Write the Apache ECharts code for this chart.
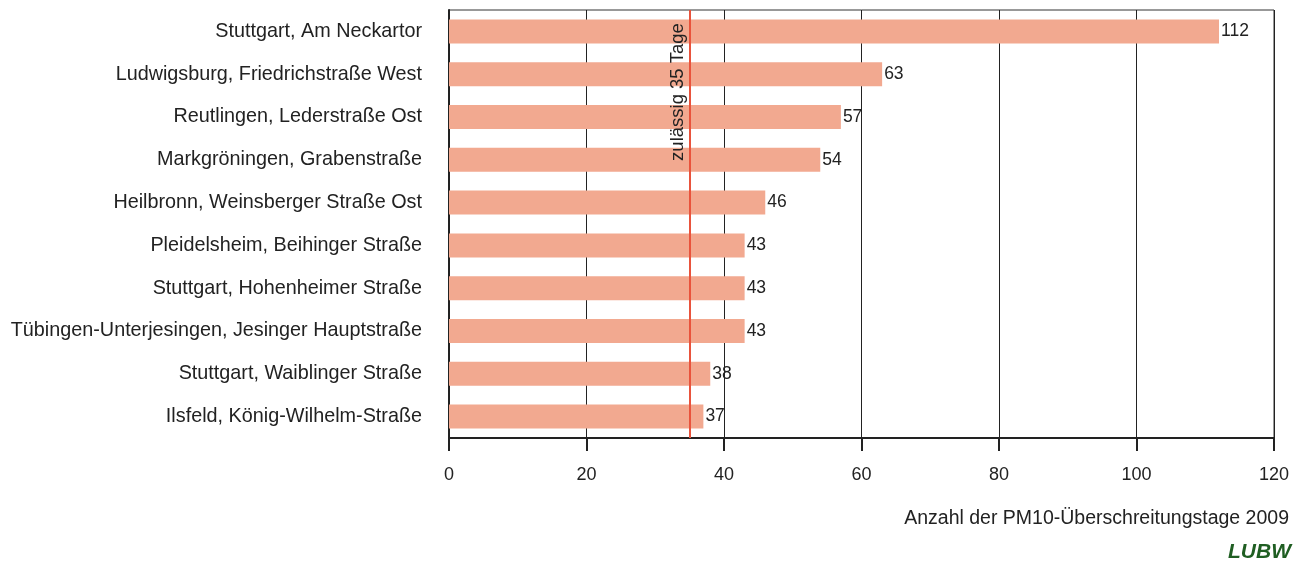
<!DOCTYPE html>
<html>
<head>
<meta charset="utf-8">
<script src="https://cdn.jsdelivr.net/npm/echarts@6/dist/echarts.min.js"></script>
<style>
    html, body { margin: 0; padding: 0; background: #fff; }
    #chart { width: 1303px; height: 564px; }
</style>
</head>
<body>
<div id="chart"></div>
<script>
    // Messstationen (von oben nach unten)
    const stations = [
        'Stuttgart, Am Neckartor',
        'Ludwigsburg, Friedrichstraße West',
        'Reutlingen, Lederstraße Ost',
        'Markgröningen, Grabenstraße',
        'Heilbronn, Weinsberger Straße Ost',
        'Pleidelsheim, Beihinger Straße',
        'Stuttgart, Hohenheimer Straße',
        'Tübingen-Unterjesingen, Jesinger Hauptstraße',
        'Stuttgart, Waiblinger Straße',
        'Ilsfeld, König-Wilhelm-Straße'
    ];
    const days = [112, 63, 57, 54, 46, 43, 43, 43, 38, 37];
    const limitDays = 35;
    const limitLabel = 'zulässig 35 Tage';
    const axisTitle = 'Anzahl der PM10-Überschreitungstage 2009';

    const font = '"Liberation Sans", Arial, sans-serif';
    const chart = echarts.init(document.getElementById('chart'));

    const option = {
        animation: false,
        grid: {
            left: 449,
            right: 29,
            top: 10,
            bottom: 126,
            show: true,
            borderColor: '#333',
            borderWidth: 1
        },
        xAxis: {
            type: 'value',
            min: 0,
            max: 120,
            interval: 20,
            axisLine: {show: true, lineStyle: {color: '#222', width: 2}},
            axisTick: {show: true, length: 13, lineStyle: {color: '#222', width: 2}},
            axisLabel: {color: '#222', fontSize: 18, fontFamily: font, margin: 28},
            splitLine: {show: true, lineStyle: {color: '#222', width: 1}}
        },
        yAxis: {
            type: 'category',
            inverse: true,
            data: stations,
            axisLine: {show: true, lineStyle: {color: '#222', width: 2}},
            axisTick: {show: false},
            axisLabel: {color: '#222', fontSize: 19.8, fontFamily: font, margin: 27}
        },
        series: [{
            type: 'bar',
            data: days,
            barWidth: 24,
            itemStyle: {color: '#F2A990'},
            label: {
                show: true,
                position: 'right',
                distance: 2,
                color: '#222',
                fontSize: 17.5,
                fontFamily: font
            },
            markLine: {
                silent: true,
                symbol: 'none',
                lineStyle: {color: '#E9533C', width: 2, type: 'solid'},
                label: {show: false},
                data: [{xAxis: limitDays}]
            },
            z: 1
        }],
        graphic: [
            {
                type: 'text',
                x: 678,
                y: 92,
                rotation: Math.PI / 2,
                z: 100,
                style: {
                    text: limitLabel,
                    fill: '#222',
                    font: '18.5px ' + font,
                    align: 'center',
                    verticalAlign: 'middle'
                }
            },
            {
                type: 'text',
                right: 14,
                top: 509,
                style: {
                    text: axisTitle,
                    fill: '#222',
                    font: '19.5px ' + font
                }
            },
            {
                type: 'text',
                right: 12,
                top: 542,
                style: {
                    text: 'LUBW',
                    fill: '#1F5E22',
                    font: 'italic bold 21px ' + font
                }
            }
        ]
    };
    chart.setOption(option);
</script>
</body>
</html>
